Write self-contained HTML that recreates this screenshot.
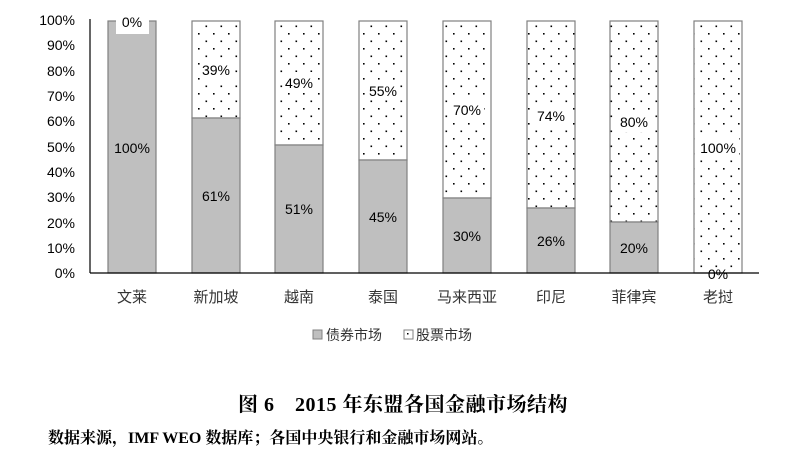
<!DOCTYPE html>
<html><head><meta charset="utf-8"><style>
body{margin:0;background:#fff;width:789px;height:450px;overflow:hidden}
</style></head><body>
<svg width="789" height="450" xmlns="http://www.w3.org/2000/svg" font-family="Liberation Sans, Noto Sans CJK SC, sans-serif">
<defs>
<pattern id="d" width="15" height="15" patternUnits="userSpaceOnUse">
<rect x="3" y="3" width="1.6" height="1.6" fill="#000"/>
<rect x="10.5" y="10.5" width="1.6" height="1.6" fill="#000"/>
</pattern>
</defs>
<g font-size="14" fill="#000" text-anchor="end">
<text x="75" y="25">100%</text><text x="75" y="50">90%</text><text x="75" y="76">80%</text>
<text x="75" y="101">70%</text><text x="75" y="126">60%</text><text x="75" y="152">50%</text>
<text x="75" y="177">40%</text><text x="75" y="202">30%</text><text x="75" y="228">20%</text>
<text x="75" y="253">10%</text><text x="75" y="278">0%</text>
</g>
<g stroke="#808080" stroke-width="1.2">
<rect x="108" y="21" width="48" height="252" fill="#bfbfbf"/>
<rect x="192" y="21" width="48" height="97" fill="url(#d)"/><rect x="192" y="118" width="48" height="155" fill="#bfbfbf"/>
<rect x="275" y="21" width="48" height="124" fill="url(#d)"/><rect x="275" y="145" width="48" height="128" fill="#bfbfbf"/>
<rect x="359" y="21" width="48" height="139" fill="url(#d)"/><rect x="359" y="160" width="48" height="113" fill="#bfbfbf"/>
<rect x="443" y="21" width="48" height="177" fill="url(#d)"/><rect x="443" y="198" width="48" height="75" fill="#bfbfbf"/>
<rect x="527" y="21" width="48" height="187" fill="url(#d)"/><rect x="527" y="208" width="48" height="65" fill="#bfbfbf"/>
<rect x="610" y="21" width="48" height="201" fill="url(#d)"/><rect x="610" y="222" width="48" height="51" fill="#bfbfbf"/>
<rect x="694" y="21" width="48" height="252" fill="url(#d)"/>
</g>
<rect x="116" y="12" width="33" height="22" fill="#fff"/>
<rect x="200" y="60" width="33" height="20" fill="#fff"/>
<rect x="283" y="72" width="33" height="20" fill="#fff"/>
<rect x="367" y="80" width="33" height="20" fill="#fff"/>
<rect x="451" y="100" width="33" height="20" fill="#fff"/>
<rect x="535" y="106" width="33" height="20" fill="#fff"/>
<rect x="618" y="112" width="33" height="20" fill="#fff"/>
<rect x="697" y="138" width="42" height="20" fill="#fff"/>
<line x1="90" y1="19" x2="90" y2="273" stroke="#000" stroke-width="1.2"/>
<line x1="90" y1="273" x2="759" y2="273" stroke="#000" stroke-width="1.2"/>
<g font-size="14" text-anchor="middle">
<text x="132" y="27">0%</text><text x="132" y="153">100%</text>
<text x="216" y="75">39%</text><text x="216" y="201">61%</text>
<text x="299" y="88">49%</text><text x="299" y="214">51%</text>
<text x="383" y="96">55%</text><text x="383" y="222">45%</text>
<text x="467" y="115">70%</text><text x="467" y="241">30%</text>
<text x="551" y="121">74%</text><text x="551" y="246">26%</text>
<text x="634" y="127">80%</text><text x="634" y="253">20%</text>
<text x="718" y="153">100%</text><text x="718" y="279">0%</text>
</g>
<g font-size="15" fill="#333" text-anchor="middle">
<text x="132" y="302">文莱</text><text x="216" y="302">新加坡</text><text x="299" y="302">越南</text>
<text x="383" y="302">泰国</text><text x="467" y="302">马来西亚</text><text x="551" y="302">印尼</text>
<text x="634" y="302">菲律宾</text><text x="718" y="302">老挝</text>
</g>
<rect x="313" y="330" width="9" height="9" fill="#bfbfbf" stroke="#808080"/>
<text x="326" y="340" font-size="14" fill="#333">债券市场</text>
<rect x="404" y="330" width="9" height="9" fill="#fff" stroke="#808080"/>
<rect x="407" y="333" width="1.5" height="1.5" fill="#000"/>
<text x="416" y="340" font-size="14" fill="#333">股票市场</text>
<text x="403" y="411" font-size="20" text-anchor="middle" letter-spacing="0.5" font-family="Liberation Serif, Noto Serif CJK SC, serif" font-weight="bold">图 6　2015 年东盟各国金融市场结构</text>
<text x="48" y="443" font-size="16" font-family="Liberation Serif, Noto Serif CJK SC, serif" font-weight="bold">数据来源，IMF WEO 数据库；各国中央银行和金融市场网站。</text>
</svg>
</body></html>
